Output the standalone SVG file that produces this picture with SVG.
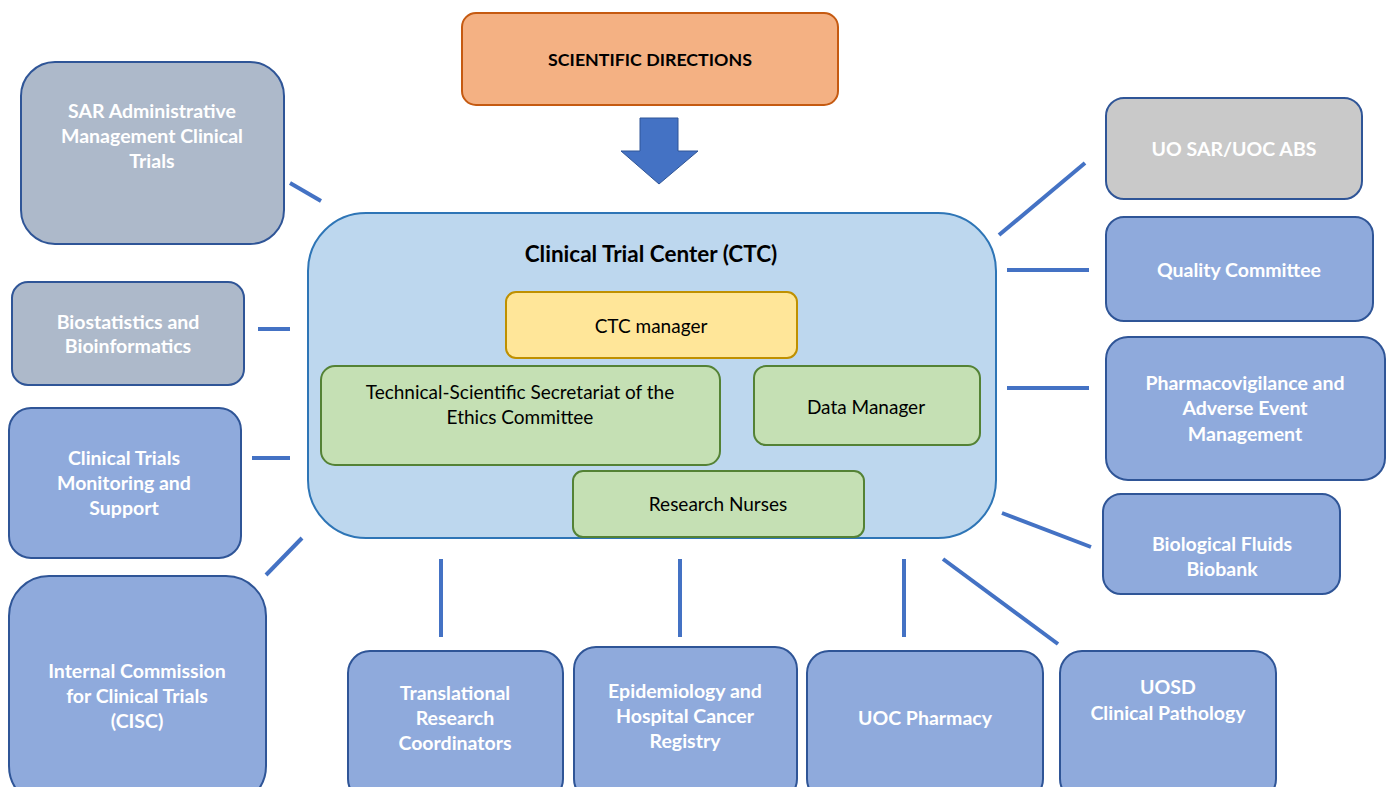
<svg xmlns="http://www.w3.org/2000/svg" width="1391" height="787" viewBox="0 0 1391 787">
<style>
.w{font-family:Lato,"Liberation Sans",sans-serif;font-weight:bold;font-size:19.5px;fill:#fff;text-anchor:middle}
.k{font-family:Lato,"Liberation Sans",sans-serif;font-size:19px;fill:#000;text-anchor:middle}
.gray{fill:#ADB9CA;stroke:#2F5597;stroke-width:2}
.blue{fill:#8FAADC;stroke:#2F5597;stroke-width:2}
.lgray{fill:#C9C9C9;stroke:#2F5597;stroke-width:2}
.green{fill:#C5E0B4;stroke:#548235;stroke-width:2}
.c{stroke:#4472C4;stroke-width:4;fill:none}
</style>
<rect width="1391" height="787" fill="#fff"/>
<g id="scientific-directions">
<rect x="462" y="13" width="376" height="92" rx="14" fill="#F4B183" stroke="#C55A11" stroke-width="2"/>
<text x="650" y="66" class="k" style="font-weight:bold;font-size:17.8px">SCIENTIFIC DIRECTIONS</text>
</g>
<g id="arrow-down">
<polygon points="640,118 678,118 678,151 698,151 659,184 621,151 640,151" fill="#4472C4" stroke="#2F5597" stroke-width="1"/>
</g>
<g id="ctc">
<rect x="308" y="213" width="688" height="325" rx="58" fill="#BDD7EE" stroke="#2E75B6" stroke-width="2"/>
<text x="651" y="262" class="k" style="font-weight:bold;font-size:22.5px">Clinical Trial Center (CTC)</text>
</g>
<g id="ctc-manager">
<rect x="506" y="292" width="291" height="66" rx="10" fill="#FFE699" stroke="#BF9000" stroke-width="2"/>
<text x="651" y="333" class="k">CTC manager</text>
</g>
<g id="secretariat">
<rect x="321" y="366" width="399" height="99" rx="14" class="green"/>
<text x="520" y="399" class="k">Technical-Scientific Secretariat of the</text>
<text x="520" y="424" class="k">Ethics Committee</text>
</g>
<g id="data-manager">
<rect x="754" y="366" width="226" height="79" rx="12" class="green"/>
<text x="866" y="414" class="k">Data Manager</text>
</g>
<g id="research-nurses">
<rect x="573" y="471" width="291" height="66" rx="10" class="green"/>
<text x="718" y="511" class="k">Research Nurses</text>
</g>
<g id="sar-admin">
<rect x="21" y="62" width="263" height="182" rx="34" class="gray"/>
<text x="152" y="118" class="w">SAR Administrative</text>
<text x="152" y="143" class="w">Management Clinical</text>
<text x="152" y="168" class="w">Trials</text>
</g>
<g id="biostatistics">
<rect x="12" y="282" width="232" height="103" rx="16" class="gray"/>
<text x="128" y="329" class="w">Biostatistics and</text>
<text x="128" y="353" class="w">Bioinformatics</text>
</g>
<g id="monitoring">
<rect x="9" y="408" width="232" height="150" rx="22" class="blue"/>
<text x="124" y="465" class="w">Clinical Trials</text>
<text x="124" y="490" class="w">Monitoring and</text>
<text x="124" y="515" class="w">Support</text>
</g>
<g id="cisc">
<rect x="9" y="576" width="257" height="230" rx="40" class="blue"/>
<text x="137" y="678" class="w">Internal Commission</text>
<text x="137" y="703" class="w">for Clinical Trials</text>
<text x="137" y="728" class="w">(CISC)</text>
</g>
<g id="uo-sar">
<rect x="1106" y="98" width="256" height="101" rx="18" class="lgray"/>
<text x="1234" y="156" class="w">UO SAR/UOC ABS</text>
</g>
<g id="quality">
<rect x="1106" y="217" width="267" height="104" rx="18" class="blue"/>
<text x="1239" y="277" class="w">Quality Committee</text>
</g>
<g id="pharmacovigilance">
<rect x="1106" y="337" width="279" height="143" rx="22" class="blue"/>
<text x="1245" y="390" class="w">Pharmacovigilance and</text>
<text x="1245" y="415" class="w">Adverse Event</text>
<text x="1245" y="441" class="w">Management</text>
</g>
<g id="biobank">
<rect x="1103" y="494" width="237" height="100" rx="18" class="blue"/>
<text x="1222" y="551" class="w">Biological Fluids</text>
<text x="1222" y="576" class="w">Biobank</text>
</g>
<g id="translational">
<rect x="348" y="651" width="215" height="150" rx="22" class="blue"/>
<text x="455" y="700" class="w">Translational</text>
<text x="455" y="725" class="w">Research</text>
<text x="455" y="750" class="w">Coordinators</text>
</g>
<g id="epidemiology">
<rect x="574" y="647" width="223" height="154" rx="22" class="blue"/>
<text x="685" y="698" class="w">Epidemiology and</text>
<text x="685" y="723" class="w">Hospital Cancer</text>
<text x="685" y="748" class="w">Registry</text>
</g>
<g id="pharmacy">
<rect x="807" y="651" width="236" height="150" rx="22" class="blue"/>
<text x="925" y="725" class="w">UOC Pharmacy</text>
</g>
<g id="uosd">
<rect x="1060" y="651" width="216" height="150" rx="22" class="blue"/>
<text x="1168" y="694" class="w">UOSD</text>
<text x="1168" y="720" class="w">Clinical Pathology</text>
</g>
<g id="connectors">
<line class="c" x1="290" y1="183" x2="321" y2="201"/>
<line class="c" x1="258" y1="329" x2="290" y2="329"/>
<line class="c" x1="252" y1="458" x2="290" y2="458"/>
<line class="c" x1="266" y1="575" x2="302" y2="538"/>
<line class="c" x1="999" y1="235" x2="1085" y2="163"/>
<line class="c" x1="1007" y1="270" x2="1089" y2="270"/>
<line class="c" x1="1007" y1="388" x2="1089" y2="388"/>
<line class="c" x1="1002" y1="513" x2="1091" y2="547"/>
<line class="c" x1="441" y1="559" x2="441" y2="637"/>
<line class="c" x1="680" y1="559" x2="680" y2="637"/>
<line class="c" x1="904" y1="559" x2="904" y2="637"/>
<line class="c" x1="943" y1="559" x2="1058" y2="644"/>
</g>
</svg>
